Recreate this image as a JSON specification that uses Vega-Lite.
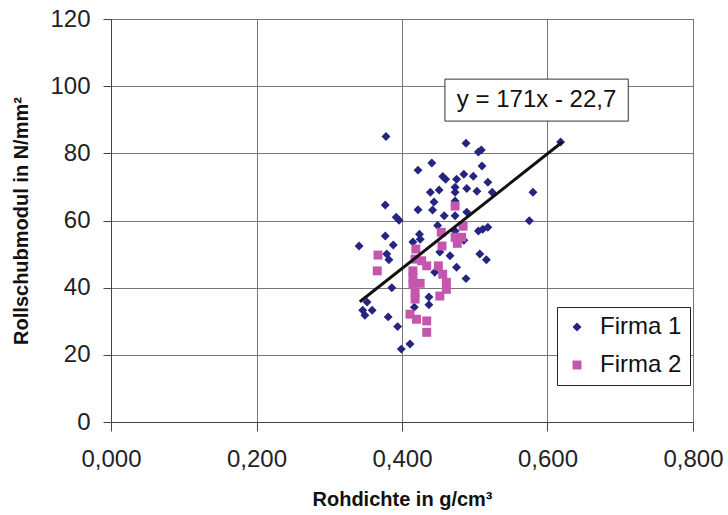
{
  "$schema": "https://vega.github.io/schema/vega-lite/v6.json",
  "width": 582,
  "height": 403,
  "autosize": {"type": "none"},
  "padding": {"left": 111, "top": 19, "right": 35, "bottom": 93},
  "background": "white",
  "config": {
    "font": "Liberation Sans",
    "view": {"stroke": "#555", "strokeWidth": 1},
    "axis": {"gridColor": "#777", "gridOpacity": 1, "gridWidth": 1, "domainColor": "#444", "tickColor": "#444", "labelColor": "#222", "titleColor": "#111"}
  },
  "datasets": {
    "pts": [
      {"x": 0.378, "y": 85.0, "s": "Firma 1"},
      {"x": 0.341, "y": 52.4, "s": "Firma 1"},
      {"x": 0.377, "y": 64.6, "s": "Firma 1"},
      {"x": 0.392, "y": 61.0, "s": "Firma 1"},
      {"x": 0.396, "y": 60.1, "s": "Firma 1"},
      {"x": 0.377, "y": 55.4, "s": "Firma 1"},
      {"x": 0.388, "y": 52.7, "s": "Firma 1"},
      {"x": 0.379, "y": 50.0, "s": "Firma 1"},
      {"x": 0.382, "y": 48.3, "s": "Firma 1"},
      {"x": 0.386, "y": 40.0, "s": "Firma 1"},
      {"x": 0.352, "y": 35.7, "s": "Firma 1"},
      {"x": 0.346, "y": 33.3, "s": "Firma 1"},
      {"x": 0.349, "y": 31.8, "s": "Firma 1"},
      {"x": 0.359, "y": 33.3, "s": "Firma 1"},
      {"x": 0.381, "y": 31.3, "s": "Firma 1"},
      {"x": 0.394, "y": 28.4, "s": "Firma 1"},
      {"x": 0.399, "y": 21.7, "s": "Firma 1"},
      {"x": 0.411, "y": 23.2, "s": "Firma 1"},
      {"x": 0.441, "y": 77.1, "s": "Firma 1"},
      {"x": 0.422, "y": 75.0, "s": "Firma 1"},
      {"x": 0.456, "y": 73.1, "s": "Firma 1"},
      {"x": 0.460, "y": 72.3, "s": "Firma 1"},
      {"x": 0.439, "y": 68.4, "s": "Firma 1"},
      {"x": 0.451, "y": 69.1, "s": "Firma 1"},
      {"x": 0.444, "y": 65.5, "s": "Firma 1"},
      {"x": 0.442, "y": 63.1, "s": "Firma 1"},
      {"x": 0.422, "y": 63.2, "s": "Firma 1"},
      {"x": 0.458, "y": 61.4, "s": "Firma 1"},
      {"x": 0.449, "y": 58.5, "s": "Firma 1"},
      {"x": 0.424, "y": 55.9, "s": "Firma 1"},
      {"x": 0.425, "y": 54.4, "s": "Firma 1"},
      {"x": 0.415, "y": 53.6, "s": "Firma 1"},
      {"x": 0.473, "y": 61.4, "s": "Firma 1"},
      {"x": 0.473, "y": 56.9, "s": "Firma 1"},
      {"x": 0.452, "y": 50.6, "s": "Firma 1"},
      {"x": 0.466, "y": 49.5, "s": "Firma 1"},
      {"x": 0.445, "y": 44.6, "s": "Firma 1"},
      {"x": 0.437, "y": 37.2, "s": "Firma 1"},
      {"x": 0.437, "y": 34.9, "s": "Firma 1"},
      {"x": 0.417, "y": 34.2, "s": "Firma 1"},
      {"x": 0.488, "y": 83.0, "s": "Firma 1"},
      {"x": 0.505, "y": 80.4, "s": "Firma 1"},
      {"x": 0.509, "y": 81.0, "s": "Firma 1"},
      {"x": 0.510, "y": 76.2, "s": "Firma 1"},
      {"x": 0.485, "y": 73.8, "s": "Firma 1"},
      {"x": 0.498, "y": 73.2, "s": "Firma 1"},
      {"x": 0.518, "y": 71.4, "s": "Firma 1"},
      {"x": 0.475, "y": 72.3, "s": "Firma 1"},
      {"x": 0.473, "y": 69.9, "s": "Firma 1"},
      {"x": 0.473, "y": 68.4, "s": "Firma 1"},
      {"x": 0.489, "y": 69.5, "s": "Firma 1"},
      {"x": 0.503, "y": 68.7, "s": "Firma 1"},
      {"x": 0.524, "y": 68.4, "s": "Firma 1"},
      {"x": 0.489, "y": 62.5, "s": "Firma 1"},
      {"x": 0.485, "y": 54.1, "s": "Firma 1"},
      {"x": 0.505, "y": 56.9, "s": "Firma 1"},
      {"x": 0.511, "y": 57.4, "s": "Firma 1"},
      {"x": 0.518, "y": 58.0, "s": "Firma 1"},
      {"x": 0.507, "y": 50.0, "s": "Firma 1"},
      {"x": 0.516, "y": 48.3, "s": "Firma 1"},
      {"x": 0.475, "y": 46.1, "s": "Firma 1"},
      {"x": 0.488, "y": 42.7, "s": "Firma 1"},
      {"x": 0.580, "y": 68.4, "s": "Firma 1"},
      {"x": 0.575, "y": 59.9, "s": "Firma 1"},
      {"x": 0.618, "y": 83.4, "s": "Firma 1"},
      {"x": 0.473, "y": 65.8, "s": "Firma 1"},
      {"x": 0.367, "y": 49.7, "s": "Firma 2"},
      {"x": 0.366, "y": 45.0, "s": "Firma 2"},
      {"x": 0.419, "y": 51.5, "s": "Firma 2"},
      {"x": 0.418, "y": 48.5, "s": "Firma 2"},
      {"x": 0.427, "y": 48.0, "s": "Firma 2"},
      {"x": 0.434, "y": 46.5, "s": "Firma 2"},
      {"x": 0.415, "y": 45.0, "s": "Firma 2"},
      {"x": 0.415, "y": 43.1, "s": "Firma 2"},
      {"x": 0.415, "y": 41.0, "s": "Firma 2"},
      {"x": 0.418, "y": 38.6, "s": "Firma 2"},
      {"x": 0.418, "y": 36.6, "s": "Firma 2"},
      {"x": 0.411, "y": 32.1, "s": "Firma 2"},
      {"x": 0.420, "y": 30.6, "s": "Firma 2"},
      {"x": 0.434, "y": 30.1, "s": "Firma 2"},
      {"x": 0.434, "y": 26.7, "s": "Firma 2"},
      {"x": 0.455, "y": 52.4, "s": "Firma 2"},
      {"x": 0.450, "y": 46.5, "s": "Firma 2"},
      {"x": 0.456, "y": 44.0, "s": "Firma 2"},
      {"x": 0.461, "y": 41.6, "s": "Firma 2"},
      {"x": 0.461, "y": 39.5, "s": "Firma 2"},
      {"x": 0.452, "y": 37.5, "s": "Firma 2"},
      {"x": 0.473, "y": 64.3, "s": "Firma 2"},
      {"x": 0.484, "y": 58.3, "s": "Firma 2"},
      {"x": 0.454, "y": 56.5, "s": "Firma 2"},
      {"x": 0.473, "y": 55.0, "s": "Firma 2"},
      {"x": 0.482, "y": 55.0, "s": "Firma 2"},
      {"x": 0.476, "y": 53.2, "s": "Firma 2"},
      {"x": 0.425, "y": 41.3, "s": "Firma 2"}
    ],
    "trend": [
      {"x": 0.342, "y": 35.8},
      {"x": 0.620, "y": 83.3}
    ],
    "eq": [
      {"x": 0.459, "x2": 0.711, "y": 89.6, "y2": 102.1, "xc": 0.585, "yc": 95.8, "label": "y = 171x - 22,7"}
    ]
  },
  "layer": [
    {
      "data": {"name": "pts"},
      "mark": {"type": "point", "filled": true, "opacity": 1, "size": 80},
      "encoding": {
        "x": {
          "field": "x", "type": "quantitative",
          "scale": {"domain": [0, 0.8], "nice": false},
          "axis": {
            "values": [0, 0.2, 0.4, 0.6, 0.8],
            "labelExpr": "replace(format(datum.value, '.3f'), '.', ',')",
            "title": "Rohdichte in g/cm³",
            "tickSize": 9, "labelFontSize": 24, "labelPadding": 16, "labelFlush": false,
            "titleFontSize": 20, "titleFontWeight": "bold", "titlePadding": 18,
            "grid": true
          }
        },
        "y": {
          "field": "y", "type": "quantitative",
          "scale": {"domain": [0, 120], "nice": false},
          "axis": {
            "values": [0, 20, 40, 60, 80, 100, 120],
            "title": "Rollschubmodul in N/mm²",
            "tickSize": 8, "labelFontSize": 24, "labelPadding": 13, "labelFlush": false,
            "titleFontSize": 20, "titleFontWeight": "bold", "titlePadding": 18,
            "grid": true
          }
        },
        "color": {
          "field": "s", "type": "nominal",
          "scale": {"domain": ["Firma 1", "Firma 2"], "range": ["#25247f", "#c456ad"]},
          "legend": {
            "title": null, "orient": "none", "legendX": 446, "legendY": 288,
            "strokeColor": "#222", "fillColor": "white", "padding": 8,
            "labelFontSize": 24, "labelColor": "#111", "symbolSize": 80,
            "rowPadding": 14, "labelOffset": 11, "symbolStrokeWidth": 0
          }
        },
        "shape": {
          "field": "s", "type": "nominal",
          "scale": {"domain": ["Firma 1", "Firma 2"], "range": ["diamond", "square"]},
          "legend": {
            "title": null, "orient": "none", "legendX": 446, "legendY": 288,
            "strokeColor": "#222", "fillColor": "white", "padding": 8,
            "labelFontSize": 24, "labelColor": "#111", "symbolSize": 80,
            "rowPadding": 14, "labelOffset": 11, "symbolStrokeWidth": 0
          }
        }
      }
    },
    {
      "data": {"name": "trend"},
      "mark": {"type": "line", "color": "#111", "strokeWidth": 3},
      "encoding": {
        "x": {"field": "x", "type": "quantitative"},
        "y": {"field": "y", "type": "quantitative"}
      }
    },
    {
      "data": {"name": "eq"},
      "mark": {"type": "rect", "fill": "white", "stroke": "#333", "strokeWidth": 1},
      "encoding": {
        "x": {"field": "x", "type": "quantitative"},
        "x2": {"field": "x2"},
        "y": {"field": "y", "type": "quantitative"},
        "y2": {"field": "y2"}
      }
    },
    {
      "data": {"name": "eq"},
      "mark": {"type": "text", "fontSize": 24, "color": "#111", "align": "center", "baseline": "middle"},
      "encoding": {
        "x": {"field": "xc", "type": "quantitative"},
        "y": {"field": "yc", "type": "quantitative"},
        "text": {"field": "label"}
      }
    }
  ]
}
